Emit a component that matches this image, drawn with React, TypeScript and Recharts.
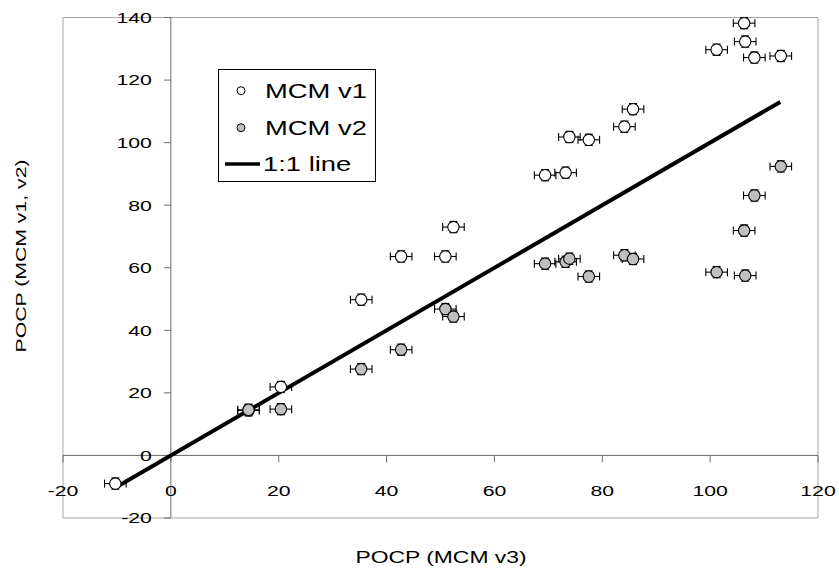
import React from "react"
import { ScatterChart, Scatter, XAxis, YAxis, ErrorBar, ReferenceLine, ReferenceDot, ReferenceArea } from "recharts"

// POCP values, paired by the MCM v3 value
const mcmV3 = [-10.3, 14.4, 20.4, 35.3, 42.7, 50.9, 52.4, 69.4, 73.2, 73.9, 77.5, 84.1, 85.7, 101.2, 106.3, 106.5, 108.2, 113.1]
const mcmV1 = [-9.0, 14.4, 21.9, 49.8, 63.6, 63.6, 73.0, 89.6, 90.4, 101.8, 100.9, 105.1, 110.7, 129.7, 138.2, 132.3, 127.2, 127.7]
const mcmV2 = [null, 14.6, 14.8, 27.6, 33.8, 46.8, 44.4, 61.3, 61.9, 62.9, 57.2, 64.0, 62.8, 58.6, 71.9, 57.5, 83.1, 92.4]
const xErr = 2
const yErr = 1.8

const oneToOne = [-10, 113]
const xTicks = [-20, 0, 20, 40, 60, 80, 100, 120]
const yTicks = [-20, 0, 20, 40, 60, 80, 100, 120, 140]

const v1Data = mcmV3.map((x, i) => ({ x, y: mcmV1[i], xErr, yErr }))
const v2Data = mcmV3
  .map((x, i) => ({ x, y: mcmV2[i], xErr, yErr }))
  .filter((d) => d.y !== null)
const lineData = oneToOne.map((v) => ({ x: v, y: v }))

const STRETCH = 1.37
const FONT = "'Liberation Sans', Arial, sans-serif"
const AXIS = "#6e6e6e"

function WideText({ x, y, size, anchor = "middle", rotate = 0, children }: any) {
  return (
    <text
      transform={`translate(${x} ${y}) rotate(${rotate}) scale(${STRETCH} 1)`}
      textAnchor={anchor}
      dominantBaseline="central"
      fontSize={size}
      fontFamily={FONT}
      fill="#000"
    >
      {children}
    </text>
  )
}

const marker = (fill: string) => (p: any) => (
  <circle cx={p.cx} cy={p.cy} r={5.7} fill={fill} stroke="#000" strokeWidth={1.1} />
)

function Legend() {
  return (
    <div style={{ position: "absolute", left: 218, top: 69, width: 158, height: 113 }}>
      <svg width={158} height={113}>
        <rect x={0.5} y={0.5} width={157} height={112} fill="#fff" stroke="#000" />
        <circle cx={23} cy={21.7} r={4} fill="#fff" stroke="#000" />
        <WideText x={47} y={21.7} size={20} anchor="start">MCM v1</WideText>
        <circle cx={23} cy={58.7} r={4} fill="#c0c0c0" stroke="#000" />
        <WideText x={47} y={58.7} size={20} anchor="start">MCM v2</WideText>
        <line x1={7} y1={95} x2={42} y2={95} stroke="#000" strokeWidth={3.5} />
        <WideText x={45} y={95} size={20} anchor="start">1:1 line</WideText>
      </svg>
    </div>
  )
}

export default function App() {
  return (
    <div style={{ position: "absolute", left: 0, top: 0, width: 839, height: 568, background: "#fff" }}>
      <ScatterChart width={839} height={568} margin={{ top: 17.5, right: 21, bottom: 50, left: 63 }}>
        <XAxis type="number" dataKey="x" domain={[-20, 120]} allowDataOverflow hide />
        <YAxis type="number" dataKey="y" domain={[-20, 140]} allowDataOverflow hide />
        <ReferenceArea x1={-20} x2={120} y1={-20} y2={140} fill="none" stroke="#a6a6a6" fillOpacity={0} />
        <ReferenceLine y={0} stroke={AXIS} />
        <ReferenceLine x={0} stroke={AXIS} />
        {xTicks.map((t) => (
          <ReferenceDot
            key={"x" + t}
            x={t}
            y={0}
            r={0}
            shape={(p: any) => (
              <g>
                <line x1={p.cx} y1={p.cy} x2={p.cx} y2={p.cy + 7} stroke={AXIS} />
                <WideText x={p.cx} y={p.cy + 35} size={15.5}>{t}</WideText>
              </g>
            )}
          />
        ))}
        {yTicks.map((t) => (
          <ReferenceDot
            key={"y" + t}
            x={0}
            y={t}
            r={0}
            shape={(p: any) => (
              <g>
                <line x1={p.cx - 7} y1={p.cy} x2={p.cx} y2={p.cy} stroke={AXIS} />
                <WideText x={p.cx - 19} y={p.cy} size={15.5} anchor="end">{t}</WideText>
              </g>
            )}
          />
        ))}
        <Scatter
          data={lineData}
          line={{ stroke: "#000", strokeWidth: 4 }}
          shape={() => <g />}
          isAnimationActive={false}
        />
        <Scatter data={v1Data} shape={marker("#fff")} isAnimationActive={false}>
          <ErrorBar dataKey="xErr" direction="x" width={4} stroke="#000" strokeWidth={1.1} />
          <ErrorBar dataKey="yErr" direction="y" width={4} stroke="#000" strokeWidth={1.1} />
        </Scatter>
        <Scatter data={v2Data} shape={marker("#c0c0c0")} isAnimationActive={false}>
          <ErrorBar dataKey="xErr" direction="x" width={4} stroke="#000" strokeWidth={1.1} />
          <ErrorBar dataKey="yErr" direction="y" width={4} stroke="#000" strokeWidth={1.1} />
        </Scatter>
      </ScatterChart>
      <svg width={839} height={568} style={{ position: "absolute", left: 0, top: 0, pointerEvents: "none" }}>
        <WideText x={441} y={557} size={16.7}>POCP (MCM v3)</WideText>
        <WideText x={21} y={256} size={15.5} rotate={-90}>POCP (MCM v1, v2)</WideText>
      </svg>
      <Legend />
    </div>
  )
}
